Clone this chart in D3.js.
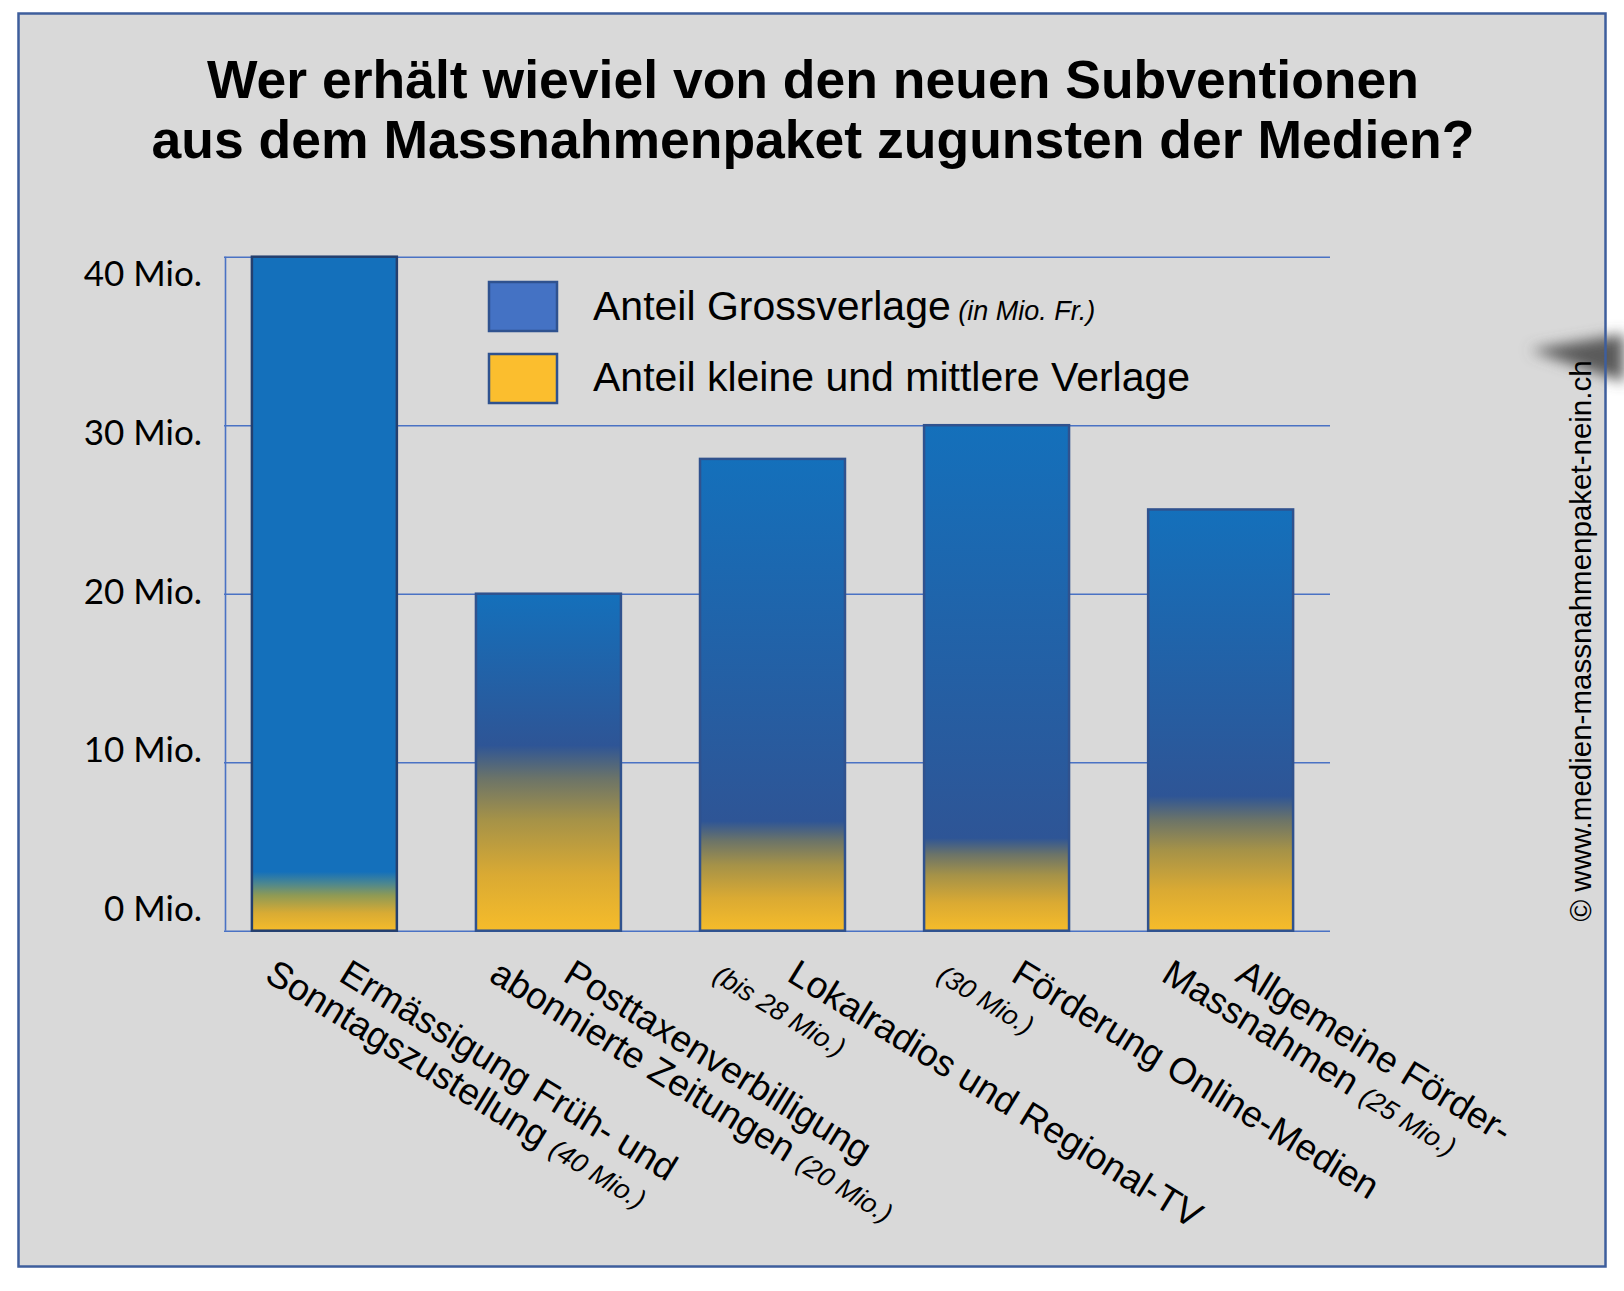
<!DOCTYPE html>
<html>
<head>
<meta charset="utf-8">
<script src="https://cdn.jsdelivr.net/npm/d3@7"></script>
<style>
  html, body { margin: 0; padding: 0; background: #ffffff; }
</style>
</head>
<body>
<div id="chart"></div>
<script>
// data
const categories = ["Ermässigung", "Posttaxen", "Lokalradios", "Online", "Allgemein"];
const labelLine1 = [
  "Ermässigung Früh- und",
  "Posttaxenverbilligung",
  "Lokalradios und Regional-TV",
  "Förderung Online-Medien",
  "Allgemeine Förder-"
];
const labelLine2 = ["Sonntagszustellung ", "abonnierte Zeitungen ", "", "", "Massnahmen "];
const labelAmount = ["(40 Mio.)", "(20 Mio.)", "(bis 28 Mio.)", "(30 Mio.)", "(25 Mio.)"];
const totals = [40, 20, 28, 30, 25];          // Mio. Fr. total per measure
const smallShare = [3.5, 11, 6.5, 5.5, 8];    // Anteil kleine und mittlere Verlage (estimated)
const yTicks = [0, 10, 20, 30, 40];
const tickLabels = ["0 Mio.", "10 Mio.", "20 Mio.", "30 Mio.", "40 Mio."];
const legendLabels = ["Anteil Grossverlage", "Anteil kleine und mittlere Verlage"];
const legendNotes = ["(in Mio. Fr.)", ""];
const legendColors = ["#4472C4", "#FBBE2E"];

const W = 1624, H = 1291;
const svg = d3.select("#chart").append("svg")
  .attr("width", W).attr("height", H)
  .style("display", "block");

const defs = svg.append("defs");
defs.append("filter").attr("id", "blur")
  .attr("x", "-50%").attr("y", "-100%").attr("width", "200%").attr("height", "300%")
  .append("feGaussianBlur").attr("stdDeviation", 7);

// panel background
svg.append("rect")
  .attr("x", 18.5).attr("y", 13.5).attr("width", 1587).attr("height", 1253)
  .attr("fill", "#D9D9D9");

// grey pointer shadow at the right edge
svg.append("path")
  .attr("d", "M1530,350 L1624,334 L1624,382 Z")
  .attr("fill", "#5a5a5a")
  .attr("filter", "url(#blur)");

// title
const title = svg.append("text")
  .attr("text-anchor", "middle")
  .style("font-family", "'Liberation Sans', Arial, sans-serif")
  .style("font-weight", "bold")
  .style("font-size", "53.5px")
  .attr("fill", "#000");
title.append("tspan").attr("x", 813).attr("y", 98).text("Wer erhält wieviel von den neuen Subventionen");
title.append("tspan").attr("x", 813).attr("y", 158).text("aus dem Massnahmenpaket zugunsten der Medien?");

// scales
const x = d3.scaleBand().domain(categories)
  .range([225, 1320]).paddingInner(0.353).paddingOuter(0.12);
const y = d3.scaleLinear().domain([0, 40]).range([930.7, 256.7]);
const yLab = d3.scaleLinear().domain([0, 40]).range([909, 274]);

// grid lines
const grid = svg.append("g").attr("transform", "translate(224,0)")
  .call(d3.axisRight(y).tickValues(yTicks).tickSize(1106).tickFormat(""));
grid.select(".domain").remove();
grid.selectAll(".tick line").attr("stroke", "#4A72C4").attr("stroke-width", 1.6);

// y axis line
svg.append("line")
  .attr("x1", 225.5).attr("x2", 225.5)
  .attr("y1", y(40)).attr("y2", y(0))
  .attr("stroke", "#4A72C4").attr("stroke-width", 1.6);

// y tick labels
svg.append("g").selectAll("text")
  .data(yTicks)
  .join("text")
  .attr("x", 202)
  .attr("y", d => yLab(d) + 12)
  .attr("text-anchor", "end")
  .style("font-family", "Lato, 'Open Sans', sans-serif")
  .style("font-size", "35px")
  .attr("fill", "#000")
  .text((d, i) => tickLabels[i]);

// bar gradients (yellow share at the bottom, blue above)
categories.forEach((c, i) => {
  const t = totals[i], s = smallShare[i];
  const g = defs.append("linearGradient")
    .attr("id", "grad" + i)
    .attr("gradientUnits", "userSpaceOnUse")
    .attr("x1", 0).attr("x2", 0)
    .attr("y1", y(0)).attr("y2", y(t));
  // the first bar blends straight into the bright blue
  const stops = i === 0 ? [
    [0, "#F6BC2A"],
    [s * 0.3, "#D8AB34"],
    [s * 0.6, "#8E9A55"],
    [s * 0.8, "#4C8790"],
    [s, "#1470BB"],
    [t, "#1470BB"]
  ] : [
    [0, "#F6BC2A"],
    [s * 0.3, "#DAAA33"],
    [s * 0.6, "#A59248"],
    [s * 0.82, "#6C7468"],
    [s, "#2E5596"],
    [t, "#1470BB"]
  ];
  g.selectAll("stop").data(stops).join("stop")
    .attr("offset", d => Math.min(1, d[0] / t))
    .attr("stop-color", d => d[1]);
});

// bars
svg.append("g").selectAll("rect")
  .data(categories)
  .join("rect")
  .attr("x", d => x(d))
  .attr("y", (d, i) => y(totals[i]))
  .attr("width", x.bandwidth())
  .attr("height", (d, i) => y(0) - y(totals[i]))
  .attr("fill", (d, i) => "url(#grad" + i + ")")
  .attr("stroke", (d, i) => i === 0 ? "#243F6E" : "#30528E")
  .attr("stroke-width", 2.5);

// legend
const legend = svg.append("g");
legend.selectAll("rect")
  .data(legendLabels)
  .join("rect")
  .attr("x", 489)
  .attr("y", (d, i) => 282 + i * 72)
  .attr("width", 68).attr("height", 49)
  .attr("fill", (d, i) => legendColors[i])
  .attr("stroke", "#2F528F").attr("stroke-width", 2.5);
const legText = legend.selectAll("text")
  .data(legendLabels)
  .join("text")
  .attr("x", 593)
  .attr("y", (d, i) => 320 + i * 71)
  .style("font-family", "'Liberation Sans', Arial, sans-serif")
  .style("font-size", "41px")
  .attr("fill", "#000");
legText.append("tspan").text(d => d);
legText.append("tspan")
  .style("font-style", "italic").style("font-size", "27px")
  .text((d, i) => legendNotes[i] ? "  " + legendNotes[i] : "");

// rotated category labels
const angle = 31.5;
const lineShift = 74;
const xl = svg.append("g").selectAll("g")
  .data(categories)
  .join("g");
xl.append("text")
  .attr("transform", d => `translate(${x(d) + x.bandwidth() / 2 + 13},980) rotate(${angle})`)
  .style("font-family", "'Liberation Sans', Arial, sans-serif")
  .style("font-size", "37px")
  .attr("fill", "#000")
  .text((d, i) => labelLine1[i]);
const l2 = xl.append("text")
  .attr("transform", d => `translate(${x(d) + x.bandwidth() / 2 + 13 - lineShift},980) rotate(${angle})`)
  .style("font-family", "'Liberation Sans', Arial, sans-serif")
  .style("font-size", "37px")
  .attr("fill", "#000");
l2.append("tspan").text((d, i) => labelLine2[i]);
l2.append("tspan")
  .style("font-style", "italic").style("font-size", "27px")
  .text((d, i) => labelAmount[i]);

// copyright, vertical
svg.append("text")
  .attr("transform", "translate(1591,641) rotate(-90)")
  .attr("text-anchor", "middle")
  .style("font-family", "'Liberation Sans', Arial, sans-serif")
  .style("font-size", "29.5px")
  .attr("fill", "#000")
  .text("© www.medien-massnahmenpaket-nein.ch");

// panel frame
svg.append("rect")
  .attr("x", 18.5).attr("y", 13.5).attr("width", 1587).attr("height", 1253)
  .attr("fill", "none")
  .attr("stroke", "#3E5E9C").attr("stroke-width", 2.5);
</script>
</body>
</html>
